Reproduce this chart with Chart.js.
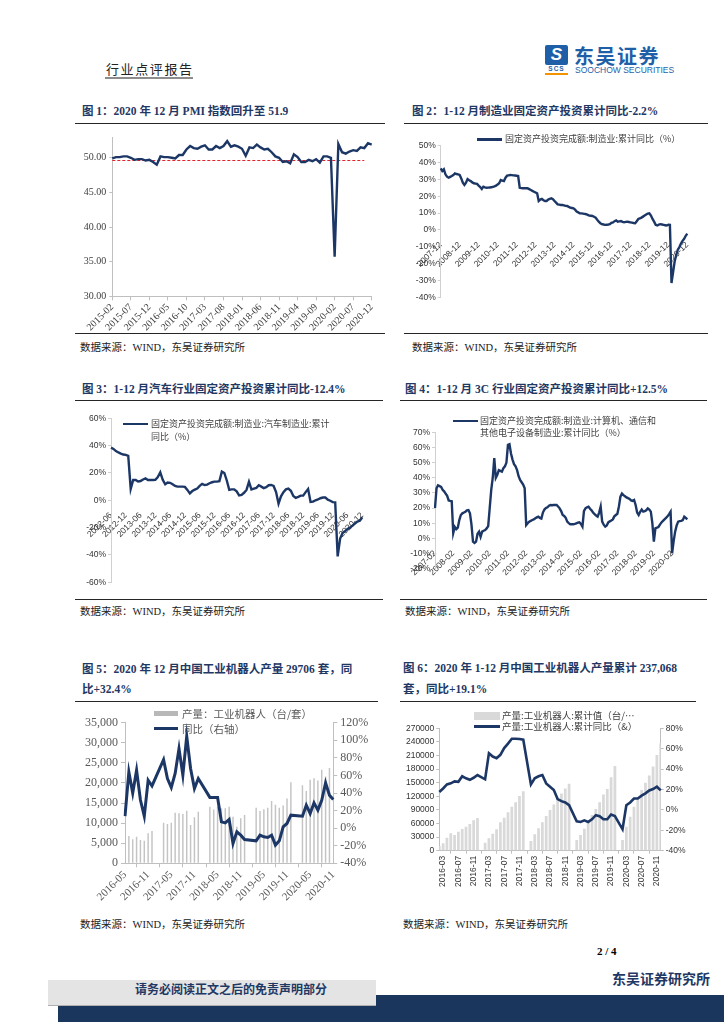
<!DOCTYPE html>
<html><head><meta charset="utf-8">
<script src="https://cdn.jsdelivr.net/npm/chart.js@4.4.1/dist/chart.umd.min.js"></script>
<style>
body{margin:0;background:#fff;width:724px;height:1024px;position:relative;overflow:hidden;font-family:"Liberation Serif","Noto Sans CJK SC",serif;}
.abs{position:absolute;white-space:nowrap;}
.ttl{position:absolute;font-weight:bold;color:#1f3864;font-size:11.5px;white-space:nowrap;line-height:21px;font-family:"Liberation Serif","Noto Sans CJK SC",serif;}
.rule{position:absolute;height:0;border-top:1.5px solid #262626;}
.src{position:absolute;font-size:10.5px;color:#222;white-space:nowrap;line-height:14px;}
canvas{position:absolute;}
.lg{position:absolute;font-family:"Noto Sans CJK SC",sans-serif;font-size:9px;color:#404040;white-space:nowrap;line-height:12.5px;}
.sw{position:absolute;}
</style></head><body>

<!-- header -->
<div class="abs" style="left:106px;top:59px;font-size:13px;color:#222;letter-spacing:1.6px;font-family:'Noto Sans CJK SC'">行业点评报告</div>
<div class="abs" style="left:105px;top:77px;width:88px;height:2px;background:#8c8c8c"></div>
<div class="abs" style="left:545px;top:45px;width:23px;height:20px;background:#1f5fa8;border-radius:2px;color:#fff;font:italic bold 17px 'Liberation Sans';text-align:center;line-height:20px">S</div>
<div class="abs" style="left:545px;top:65px;width:23px;font:bold 6.5px 'Liberation Sans';color:#1f5fa8;text-align:center;letter-spacing:1px">SCS</div>
<div class="abs" style="left:545px;top:73px;width:23px;height:2px;background:#f29400"></div>
<div class="abs" style="left:574px;top:41px;font:bold 20px 'Noto Sans CJK SC';color:#1f5fa8;letter-spacing:1.5px">东吴证券</div>
<div class="abs" style="left:575px;top:65px;font:8.5px 'Liberation Sans Narrow','Liberation Sans';color:#1f5fa8">SOOCHOW SECURITIES</div>

<!-- row 1 -->
<div class="ttl" style="left:82px;top:101px">图 1：2020 年 12 月 PMI 指数回升至 51.9</div>
<div class="ttl" style="left:412px;top:101px">图 2：1-12 月制造业固定资产投资累计同比-2.2%</div>
<div class="rule" style="left:75px;top:123px;width:310px"></div>
<div class="rule" style="left:404px;top:123px;width:304px"></div>
<canvas id="c1" width="310" height="205" style="left:75px;top:128px;width:310px;height:205px"></canvas>
<canvas id="c2" width="304" height="205" style="left:404px;top:128px;width:304px;height:205px"></canvas>
<div class="sw" style="left:477px;top:138px;width:25px;height:2.5px;background:#1c3766"></div>
<div class="lg" style="left:505px;top:133px">固定资产投资完成额:制造业:累计同比（%）</div>
<div class="rule" style="left:75px;top:333px;width:310px;border-top-width:1px"></div>
<div class="rule" style="left:404px;top:333px;width:304px;border-top-width:1px"></div>
<div class="src" style="left:80px;top:341px">数据来源：WIND，东吴证券研究所</div>
<div class="src" style="left:412px;top:341px">数据来源：WIND，东吴证券研究所</div>

<!-- row 2 -->
<div class="ttl" style="left:82px;top:379px">图 3：1-12 月汽车行业固定资产投资累计同比-12.4%</div>
<div class="ttl" style="left:405px;top:379px">图 4：1-12 月 3C 行业固定资产投资累计同比+12.5%</div>
<div class="rule" style="left:75px;top:400px;width:308px"></div>
<div class="rule" style="left:400px;top:400px;width:307px"></div>
<canvas id="c3" width="308" height="197" style="left:75px;top:402px;width:308px;height:197px"></canvas>
<canvas id="c4" width="307" height="197" style="left:400px;top:402px;width:307px;height:197px"></canvas>
<div class="sw" style="left:123px;top:422.5px;width:25px;height:2.5px;background:#1c3766"></div>
<div class="lg" style="left:151px;top:418px">固定资产投资完成额:制造业:汽车制造业:累计<br>同比（%）</div>
<div class="sw" style="left:453px;top:419.5px;width:25px;height:2.5px;background:#1c3766"></div>
<div class="lg" style="left:480px;top:414.5px">固定资产投资完成额:制造业:计算机、通信和<br>其他电子设备制造业:累计同比（%）</div>
<div class="rule" style="left:75px;top:599px;width:308px;border-top-width:1px"></div>
<div class="rule" style="left:400px;top:599px;width:307px;border-top-width:1px"></div>
<div class="src" style="left:80px;top:605px">数据来源：WIND，东吴证券研究所</div>
<div class="src" style="left:405px;top:605px">数据来源：WIND，东吴证券研究所</div>

<!-- row 3 -->
<div class="ttl" style="left:82px;top:659px;line-height:20px">图 5：2020 年 12 月中国工业机器人产量 29706 套，同<br>比+32.4%</div>
<div class="ttl" style="left:403px;top:658px;line-height:21px">图 6：2020 年 1-12 月中国工业机器人产量累计 237,068<br>套，同比+19.1%</div>
<div class="rule" style="left:75px;top:701px;width:303px"></div>
<div class="rule" style="left:400px;top:701px;width:296px"></div>
<canvas id="c5" width="303" height="203" style="left:75px;top:703px;width:303px;height:203px"></canvas>
<canvas id="c6" width="296" height="203" style="left:400px;top:703px;width:296px;height:203px"></canvas>
<div class="sw" style="left:154px;top:711px;width:24px;height:5px;background:#b8b8b8"></div>
<div class="lg" style="left:182px;top:706px;font-size:10.5px;line-height:15px;color:#595959">产量：工业机器人（台/套）<br>同比（右轴）</div>
<div class="sw" style="left:154px;top:727px;width:24px;height:3px;background:#1c3766"></div>
<div class="sw" style="left:474px;top:712px;width:26px;height:8px;background:#d9d9d9"></div>
<div class="lg" style="left:502px;top:710px;font-size:9.5px;line-height:11px">产量:工业机器人:累计值（台/…<br>产量:工业机器人:累计同比（&amp;）</div>
<div class="sw" style="left:474px;top:725px;width:26px;height:3px;background:#1c3766"></div>
<div class="src" style="left:80px;top:918px">数据来源：WIND，东吴证券研究所</div>
<div class="src" style="left:403px;top:918px">数据来源：WIND，东吴证券研究所</div>

<!-- footer -->
<div class="abs" style="left:597px;top:945px;font:bold 11px 'Liberation Serif'">2 / 4</div>
<div class="abs" style="left:612px;top:968px;font:bold 14px 'Noto Sans CJK SC';color:#1f3864">东吴证券研究所</div>
<div class="abs" style="left:58px;top:995px;width:666px;height:27px;background:#1b365d"></div>
<div class="abs" style="left:48px;top:980px;width:328px;height:25px;background:#e4e4e4;border-bottom:1px solid #b0b0b0"></div>
<div class="abs" style="left:135px;top:980px;height:25px;line-height:25px;font:bold 12px 'Noto Sans CJK SC';color:#1f3864">请务必阅读正文之后的免责声明部分</div>

<script>
const NAVY = '#1c3766';
const SERIF = '"Liberation Serif", "Noto Sans CJK SC", serif';
const SANS = '"Liberation Sans", Arial, sans-serif';

// month categories 'YYYY-MM' from start to end inclusive
function monthRange(a, b){
  const out = [];
  let [y, m] = a.split('-').map(Number);
  const [ey, em] = b.split('-').map(Number);
  while (y < ey || (y === ey && m <= em)) {
    out.push(y + '-' + String(m).padStart(2, '0'));
    m++; if (m > 12) { m = 1; y++; }
  }
  return out;
}

// fig 1 - PMI
const pmiLabels = monthRange('2015-02', '2020-12');
const pmiValues = [49.9,50.1,50.1,50.2,50.2,50.0,49.7,49.8,49.8,49.6,49.7,
  49.4,49.0,50.2,50.1,50.1,50.0,49.9,50.4,50.4,51.2,51.7,51.4,
  51.3,51.6,51.8,51.2,51.2,51.7,51.4,51.7,52.4,51.6,51.8,51.6,
  51.3,50.3,51.5,51.4,51.9,51.5,51.2,51.3,50.8,50.2,50.0,49.4,
  49.5,49.2,50.5,50.1,49.4,49.4,49.7,49.5,49.8,49.3,50.2,50.2,
  50.0,35.7,52.0,50.8,50.6,50.9,51.1,51.0,51.5,51.4,52.1,51.9];
const pmiRefLevel = 49.6, pmiRefLast = '2020-10';
const pmiXTicks = ['2015-02','2015-07','2015-12','2016-05','2016-10','2017-03','2017-08','2018-01','2018-06','2018-11','2019-04','2019-09','2020-02','2020-07','2020-12'];
const pmiYTicks = [30,35,40,45,50];

// fig 2 - manufacturing FAI ytd yoy (%)
const faiLabels = monthRange('2007-12', '2020-12');
const faiValues = [36.5,
  35,36,33,31.6,31,31.5,32,32.6,33.6,33.2,33,32.6,
  30.6,28,26.7,28,30.2,29.5,29,28.2,27.7,27.5,27.3,26.3,
  25.5,24.3,25.7,25.3,25,25.1,25.2,25.3,25.6,25.9,26.3,27,
  27.7,29.6,29.3,29,31,32.2,32.4,32.6,32.5,32.4,32.3,32.2,
  32,25,24.8,24.7,24.7,24.7,24.7,24.2,23.7,23.2,22.7,22.2,
  21.7,17.2,18,18.4,17.6,17.2,17.2,18,18.4,18.8,18.2,17.2,
  16.2,15.2,15,14.8,14.8,14.6,14.3,14.2,13.7,13.2,13,12.8,
  12,10.9,10.4,9.9,9.8,9.7,9.5,9.3,8.9,8.5,8.4,8.3,
  7.8,7.3,6,4.9,4,3.4,3.2,3,3.1,3.2,3.4,4.2,
  4.5,5.2,5.7,4.9,5.1,5.3,4.8,4.5,4.8,4.9,4.7,4.5,
  4.3,4.1,4,5.2,6.5,6.9,7.3,7.9,8.5,9.1,9.7,9.9,
  8.5,6.5,4.9,3,2.6,3.1,3.4,3.2,3,2.8,2.6,3.1,
  3,-31.5,-25.2,-18.8,-14.8,-11.7,-10.2,-8.1,-6.5,-5.3,-3.5,-2.2];
const faiXTicks = ['2007-12','2008-12','2009-12','2010-12','2011-12','2012-12','2013-12','2014-12','2015-12','2016-12','2017-12','2018-12','2019-12','2020-12'];
const faiYTicks = [-40,-30,-20,-10,0,10,20,30,40,50];

// fig 3 - auto FAI ytd yoy (%)
const autoLabels = monthRange('2012-06', '2020-12');
const autoValues = [38.5,37.6,36,35,34.2,33.5,33.2,
  32.5,8.3,14.9,14.9,13.7,14.1,15.2,16,14.9,14.9,14.9,15,
  17,20.5,15,11.7,13,12.8,11.7,10.5,10,10,10,9.8,
  7.6,5.1,6.8,7.8,8.6,10.5,12,11.2,11.5,12.5,13.2,13.7,
  13.7,14,21,20,14.5,7.6,8,8,6.5,3.6,4,5.5,
  7.6,13.5,8,8.6,9.1,11,10,8.9,9.6,11,11.2,10.5,
  6,-2.5,2.9,6,8,8.6,7,3.2,1.8,2.5,3.4,3.4,
  6,8.3,-1.2,-1,0,0.6,1.5,2,2,0.5,-0.3,-1.3,
  -1.5,-41,-28,-24,-22.5,-21,-20,-18.5,-17,-15.5,-15,-12.4];
const autoXTicks = ['2012-06','2012-12','2013-06','2013-12','2014-06','2014-12','2015-06','2015-12','2016-06','2016-12','2017-06','2017-12','2018-06','2018-12','2019-06','2019-12','2020-06','2020-12'];
const autoYTicks = [-60,-40,-20,0,20,40,60];

// fig 4 - 3C FAI ytd yoy (%)
const ccLabels = monthRange('2007-02', '2020-12');
const ccValues = [20,33,35,34.5,34,32,31,29.5,28,25,24.7,
  24.5,3.5,7.5,6,7,12,15.4,16.5,17,17.6,18.5,18.7,
  16.5,9,-2.2,-3,-2.2,3,4.4,1,4.4,5,5.5,6.5,
  8,20,32,40,52.9,40,42,45,44.5,44,46.3,47.5,
  50,61.7,62.1,56,52,49,47.5,45,41,38.5,37,35.5,
  33,8.8,10,11,11.5,12.1,12.5,13.2,13.8,14.3,13.5,13,
  17,19,20,20.5,21.5,22,21.8,22,22,22,21,19.8,
  18,15.4,14.8,13.5,11,10,9.3,9.3,9.3,9.5,9.9,10.3,
  10.6,9.5,7.7,18,19.8,20.5,20.9,19.5,18.5,17,15.9,15,
  14.3,17,20.9,11,9,7.7,8.5,10.5,11.2,11.8,12.5,14.5,
  15.4,16.2,21,27.5,29.5,28.5,27.8,27,26.5,26,25,24.7,
  25.3,22,17,15.4,17.5,19,17.6,18,18.5,19.8,19,17.6,
  10,-2.2,6.6,7,7.5,9,10.5,11.5,12.5,13.5,14.5,16,
  17.6,-9.9,-2,4.4,8.5,11,11.3,11.5,12,14.3,13.5,12.5];
const ccXTicks = ['2007-02','2008-02','2009-02','2010-02','2011-02','2012-02','2013-02','2014-02','2015-02','2016-02','2017-02','2018-02','2019-02','2020-02'];
const ccYTicks = [-20,-10,0,10,20,30,40,50,60,70];

// fig 5 - monthly industrial robot output and yoy
const robotLabels = monthRange('2016-05', '2020-11');
const robotOutput = [null,6800,5970,6620,5800,5640,7460,8040,null,null,
  10100,9780,10100,12600,12440,12270,13100,9530,11440,12840,null,null,
  14100,13400,14100,13700,13700,14100,11600,9100,11200,12000,null,null,
  13800,13000,13450,13800,15500,14600,13800,14400,16100,20200,null,null,
  19400,18000,20800,21200,20600,23300,21600,23700,null];
const robotYoy = [13.6,64,40,66,32,13.6,54.6,48,null,null,
  78,56.5,46.3,62.2,90.6,60.3,104.6,67.9,45.1,56.5,null,null,
  35,35,34.9,7.2,6,9.9,-17.4,-4.2,-8,-12.9,null,null,
  -14.4,-8,-9.9,-10.6,-8,-19.3,-14.4,1.5,5.3,14.8,null,null,
  13.6,26.1,16.7,28.8,20.5,31.8,51.5,37.5,32.6];
const robotXTicks = ['2016-05','2016-11','2017-05','2017-11','2018-05','2018-11','2019-05','2019-11','2020-05','2020-11'];
const robotYTicks = [0,5000,10000,15000,20000,25000,30000,35000];
const robotY1Ticks = [-40,-20,0,20,40,60,80,100,120];

// fig 6 - cumulative industrial robot output and yoy
const cumLabels = monthRange('2016-02', '2020-12');
const cumOutput = [10400,16300,28700,38400,34600,41900,47900,52900,58900,67000,72400,null,
  17600,27300,37500,47200,62600,72800,84700,97100,106800,120700,131100,null,
  21400,36200,49400,62600,76500,89800,102000,114000,126000,137000,147700,null,
  23600,34600,48500,64000,78700,92000,106800,124000,136100,162000,187000,null,
  23600,52900,75000,97100,115600,134000,150000,166000,186000,211000,237068];
const cumYoy = [17.5,21,25,26,28,27.5,33,31,29.5,31.5,34.2,null,
  30,55.6,52.3,50.7,54,60.6,65,69.8,69.8,69.5,68.8,null,
  25,31,33,34.2,26,22.7,19.4,10.6,8.6,7.3,4.6,null,
  -11.1,-11.8,-10.2,-11.8,-9.2,-5.2,-6.2,-9.2,-9.2,-4.5,-6.1,null,
  -19,4.6,7.3,11.2,11.2,14,16.2,19,20.4,22.7,19.1];
const cumXTicks = ['2016-03','2016-07','2016-11','2017-03','2017-07','2017-11','2018-03','2018-07','2018-11','2019-03','2019-07','2019-11','2020-03','2020-07','2020-11'];
const cumYTicks = [0,30000,60000,90000,120000,150000,180000,210000,240000,270000];
const cumY1Ticks = [-40,-20,0,20,40,60,80];

Chart.defaults.animation = false;
Chart.defaults.plugins.legend.display = false;
Chart.defaults.plugins.tooltip.enabled = false;
Chart.defaults.font.family = SANS;

function fixTicks(list){ return s => { s.ticks = list.map(v => ({value: v})); }; }
function onlyTicks(list){ return function(v){ const l = this.getLabelForValue(v); return list.includes(l) ? l : null; }; }

// fig 1
const refEnd = pmiLabels.indexOf(pmiRefLast);
new Chart(document.getElementById('c1'), {
  type: 'line',
  data: {labels: pmiLabels, datasets: [
    {data: pmiValues, borderColor: NAVY, borderWidth: 2.4, pointRadius: 0, tension: 0},
    {data: pmiLabels.map((l, i) => i <= refEnd ? pmiRefLevel : null), borderColor: '#e8202a', borderWidth: 1.1, borderDash: [3, 2], pointRadius: 0}
  ]},
  options: {responsive: false, layout: {padding: {top: 5.3, right: 13.3, left: 0, bottom: 0}},
    scales: {
      x: {offset: false, grid: {drawOnChartArea: false, color: '#bfbfbf', tickLength: 4}, border: {color: '#bfbfbf'},
        afterFit: s => { s.height = 36.7; },
        ticks: {autoSkip: false, minRotation: 45, maxRotation: 45, padding: 1, color: '#404040', font: {family: SERIF, size: 10}, callback: onlyTicks(pmiXTicks)}},
      y: {min: 30, max: 53, afterBuildTicks: fixTicks(pmiYTicks), afterFit: s => { s.width = 37.3; },
        grid: {drawOnChartArea: false, color: '#bfbfbf', tickLength: 3}, border: {color: '#bfbfbf'},
        ticks: {color: '#404040', font: {family: SERIF, size: 10}, padding: 3, callback: v => v.toFixed(2)}}
    }}
});

// figs 2-4: line with category axis crossing at 0
function zeroLine(id, labels, values, xTicks, yTicks, yw, pad){
  new Chart(document.getElementById(id), {
    type: 'line',
    data: {labels: labels, datasets: [{data: values, borderColor: NAVY, borderWidth: 2.4, pointRadius: 0, tension: 0}]},
    options: {responsive: false, layout: {padding: pad},
      scales: {
        x: {position: {y: 0}, offset: false, grid: {display: false}, border: {display: false},
          ticks: {autoSkip: false, minRotation: 45, maxRotation: 45, padding: 2, color: '#333', font: {family: SANS, size: 8.5}, callback: onlyTicks(xTicks)}},
        y: {min: yTicks[0], max: yTicks[yTicks.length - 1], afterBuildTicks: fixTicks(yTicks), afterFit: s => { s.width = yw; },
          grid: {drawOnChartArea: false, color: '#d0d0d0', tickLength: 3}, border: {color: '#d0d0d0'},
          ticks: {color: '#333', font: {family: SANS, size: 8.5}, padding: 2, callback: v => v + '%'}}
      }}
  });
}
zeroLine('c2', faiLabels, faiValues, faiXTicks, faiYTicks, 36.7, {top: 17.7, bottom: 35.7, right: 20.7, left: 0});
zeroLine('c3', autoLabels, autoValues, autoXTicks, autoYTicks, 36, {top: 16.3, bottom: 16.7, right: 20.7, left: 0});
zeroLine('c4', ccLabels, ccValues, ccXTicks, ccYTicks, 35, {top: 30.3, bottom: 30.4, right: 19.7, left: 0});

// fig 5
new Chart(document.getElementById('c5'), {
  type: 'bar',
  data: {labels: robotLabels, datasets: [
    {type: 'line', data: robotYoy, yAxisID: 'y1', borderColor: NAVY, borderWidth: 3, pointRadius: 0, tension: 0, spanGaps: true, order: 0},
    {type: 'bar', data: robotOutput, yAxisID: 'y', backgroundColor: '#c4c4c4', barPercentage: 0.38, categoryPercentage: 1, order: 1}
  ]},
  options: {responsive: false, layout: {padding: {top: 19.7, left: 0, right: 0, bottom: 0}},
    scales: {
      x: {offset: false, grid: {drawOnChartArea: false, color: '#bfbfbf', tickLength: 4}, border: {color: '#bfbfbf'},
        afterFit: s => { s.height = 42.7; },
        ticks: {autoSkip: false, minRotation: 45, maxRotation: 45, padding: 1, color: '#595959', font: {family: SERIF, size: 11}, callback: onlyTicks(robotXTicks)}},
      y: {position: 'left', min: 0, max: 35000, afterBuildTicks: fixTicks(robotYTicks), afterFit: s => { s.width = 50; },
        grid: {drawOnChartArea: false, color: '#bfbfbf', tickLength: 4}, border: {color: '#bfbfbf'},
        ticks: {color: '#595959', font: {family: SERIF, size: 12}, padding: 3, callback: v => v.toLocaleString('en-US')}},
      y1: {position: 'right', min: -40, max: 120, afterBuildTicks: fixTicks(robotY1Ticks), afterFit: s => { s.width = 44.7; },
        grid: {drawOnChartArea: false, color: '#bfbfbf', tickLength: 4}, border: {color: '#bfbfbf'},
        ticks: {color: '#595959', font: {family: SERIF, size: 12}, padding: 3, callback: v => v + '%'}}
    }}
});

// fig 6
new Chart(document.getElementById('c6'), {
  type: 'bar',
  data: {labels: cumLabels, datasets: [
    {type: 'line', data: cumYoy, yAxisID: 'y1', borderColor: NAVY, borderWidth: 2.6, pointRadius: 0, tension: 0, spanGaps: true, order: 0},
    {type: 'bar', data: cumOutput, yAxisID: 'y', backgroundColor: '#d9d9d9', barPercentage: 0.72, categoryPercentage: 1, order: 1}
  ]},
  options: {responsive: false, layout: {padding: {top: 25.3, left: 0, right: 0, bottom: 0}},
    scales: {
      x: {offset: false, grid: {drawOnChartArea: false, color: '#bfbfbf', tickLength: 3}, border: {color: '#bfbfbf'},
        afterFit: s => { s.height = 55.3; },
        ticks: {autoSkip: false, minRotation: 90, maxRotation: 90, padding: 2, color: '#333', font: {family: SANS, size: 8.5}, callback: onlyTicks(cumXTicks)}},
      y: {position: 'left', min: 0, max: 270000, afterBuildTicks: fixTicks(cumYTicks), afterFit: s => { s.width = 39.3; },
        grid: {drawOnChartArea: false, color: '#bfbfbf', tickLength: 3}, border: {color: '#bfbfbf'},
        ticks: {color: '#333', font: {family: SANS, size: 8.5}, padding: 2, callback: v => String(v)}},
      y1: {position: 'right', min: -40, max: 80, afterBuildTicks: fixTicks(cumY1Ticks), afterFit: s => { s.width = 35.3; },
        grid: {drawOnChartArea: false, color: '#bfbfbf', tickLength: 3}, border: {color: '#bfbfbf'},
        ticks: {color: '#333', font: {family: SANS, size: 8.5}, padding: 2, callback: v => v + '%'}}
    }}
});
</script>
</body></html>
